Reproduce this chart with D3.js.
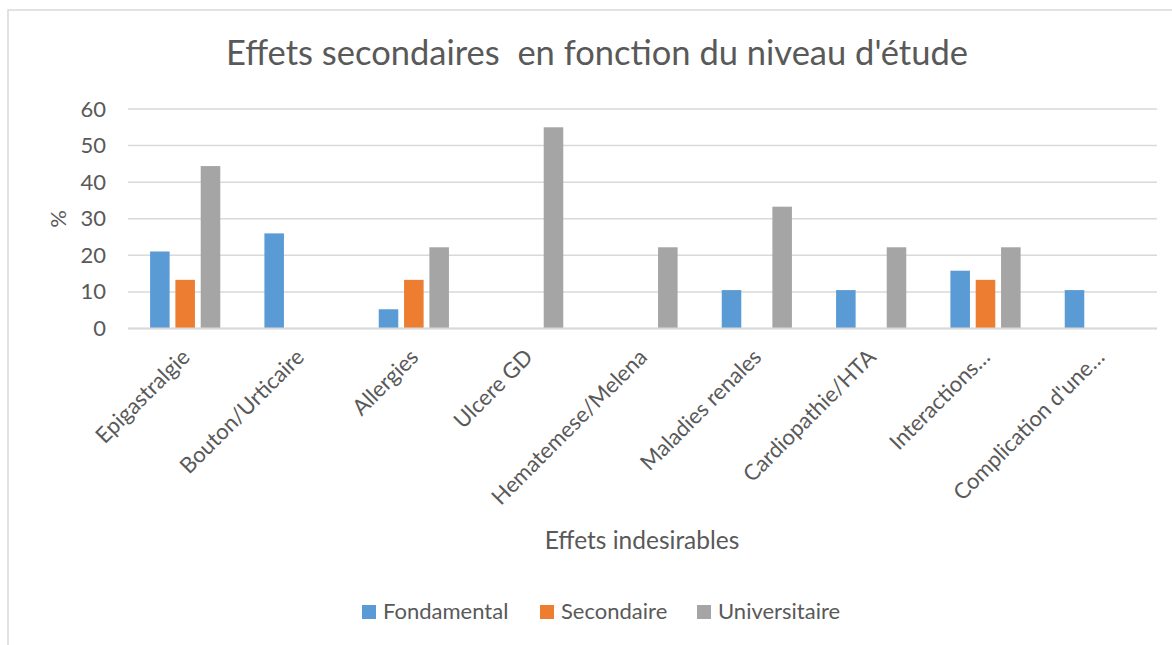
<!DOCTYPE html>
<html>
<head>
<meta charset="utf-8">
<script src="https://cdn.jsdelivr.net/npm/d3@7"></script>
<style>
  body { margin: 0; background: #fff; }
  svg { display: block; font-family: Lato, "Open Sans", sans-serif; }
</style>
</head>
<body>
<div id="chart"></div>
<script>
// chart size
const width = 1172
const height = 645

// data
const categories = ["Epigastralgie", "Bouton/Urticaire", "Allergies", "Ulcere GD",
  "Hematemese/Melena", "Maladies renales", "Cardiopathie/HTA", "Interactions…", "Complication d'une…"]
const seriesNames = ["Fondamental", "Secondaire", "Universitaire"]
const fondamental = [21.05, 26, 5.26, 0, 0, 10.5, 10.5, 15.8, 10.5]
const secondaire = [13.3, 0, 13.3, 0, 0, 0, 0, 13.3, 0]
const universitaire = [44.4, 0, 22.2, 55, 22.2, 33.3, 22.2, 22.2, 0]
const yTicks = [0, 10, 20, 30, 40, 50, 60]
const colors = ["#5B9BD5", "#ED7D31", "#A5A5A5"]

const series = [fondamental, secondaire, universitaire]
const textColor = "#595959"
const gridColor = "#d9d9d9"

var svg = d3.select("#chart")
            .append("svg")
            .attr("width", width)
            .attr("height", height)

// chart frame
svg.append("rect")
   .attr("x", 8).attr("y", 10)
   .attr("width", 1300).attr("height", 800)
   .attr("fill", "#fff")
   .attr("stroke", gridColor)
   .attr("stroke-width", 1.5)

// scales
var x = d3.scaleBand()
          .domain(categories)
          .range([128, 1157])
          .padding(0)

var y = d3.scaleLinear()
          .domain([0, 60])
          .range([328.5, 109])

var bw = x.bandwidth()
var barW = bw * 0.171
var barStep = bw * 0.2215

// title
svg.append("text")
   .attr("x", 597)
   .attr("y", 65)
   .attr("text-anchor", "middle")
   .attr("font-size", "34.5px")
   .attr("fill", textColor)
   .style("white-space", "pre")
   .text("Effets secondaires  en fonction du niveau d'étude")

// gridlines
svg.append("g")
   .selectAll("line")
   .data(yTicks)
   .enter()
   .append("line")
   .attr("x1", 128)
   .attr("x2", 1157)
   .attr("y1", d => y(d))
   .attr("y2", d => y(d))
   .attr("stroke", gridColor)
   .attr("stroke-width", 1.5)

// y axis labels
var yAxis = svg.append("g")
   .attr("transform", "translate(128,0)")
   .call(d3.axisLeft(y).tickValues(yTicks).tickSize(0).tickPadding(22))
yAxis.select(".domain").remove()
yAxis.selectAll("text")
     .attr("font-family", "Lato, sans-serif")
     .attr("font-size", "22px")
     .attr("fill", textColor)

// bars
series.forEach(function(vals, si) {
  svg.append("g")
     .selectAll("rect")
     .data(vals.map((v, i) => ({cat: categories[i], v: v})).filter(d => d.v > 0))
     .enter()
     .append("rect")
     .attr("x", d => x(d.cat) + bw / 2 + (si - 1) * barStep - barW / 2)
     .attr("y", d => y(d.v))
     .attr("width", barW)
     .attr("height", d => y(0) - y(d.v))
     .attr("fill", colors[si])
})

// x axis line
svg.append("line")
   .attr("x1", 128).attr("x2", 1157)
   .attr("y1", y(0)).attr("y2", y(0))
   .attr("stroke", gridColor)
   .attr("stroke-width", 2)

// category labels, rotated
svg.append("g")
   .selectAll("text")
   .data(categories)
   .enter()
   .append("text")
   .attr("transform", d => "translate(" + (x(d) + bw / 2 + 6) + "," + (y(0) + 30) + ") rotate(-45)")
   .attr("text-anchor", "end")
   .attr("font-size", "22px")
   .attr("fill", textColor)
   .text(d => d)

// axis titles
svg.append("text")
   .attr("transform", "translate(66,219) rotate(-90)")
   .attr("text-anchor", "middle")
   .attr("font-size", "22px")
   .attr("fill", textColor)
   .text("%")

svg.append("text")
   .attr("x", 642)
   .attr("y", 549)
   .attr("text-anchor", "middle")
   .attr("font-size", "24.5px")
   .attr("fill", textColor)
   .text("Effets indesirables")

// legend
var legendX = [362, 540, 697]
var legend = svg.append("g")
   .selectAll("g")
   .data(seriesNames)
   .enter()
   .append("g")
   .attr("transform", (d, i) => "translate(" + legendX[i] + ",605)")
legend.append("rect")
      .attr("width", 14).attr("height", 14)
      .attr("fill", (d, i) => colors[i])
legend.append("text")
      .attr("x", 21).attr("y", 14)
      .attr("font-size", "22px")
      .attr("fill", textColor)
      .text(d => d)
</script>
</body>
</html>
